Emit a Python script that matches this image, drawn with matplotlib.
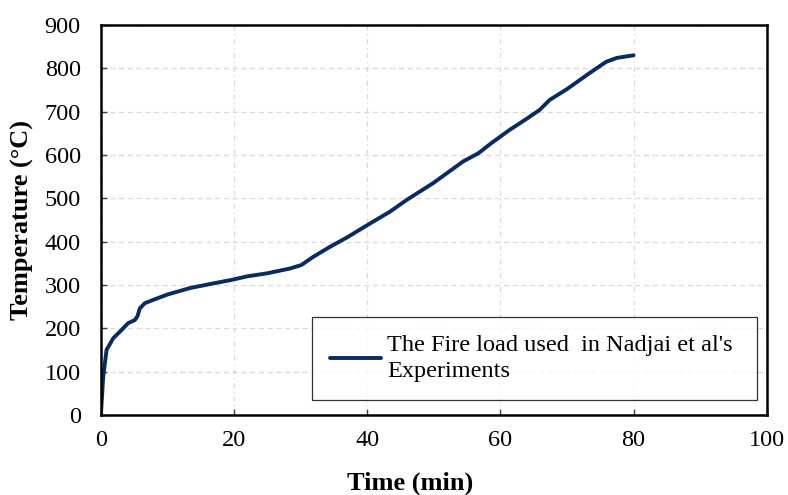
import numpy as np
import matplotlib.pyplot as plt

plt.rcParams['font.family'] = ['Liberation Serif', 'DejaVu Serif']

# fire curve (time in min, temperature in degC)
time_min = [0, 0.35, 0.85, 1.85, 3.1, 4.1, 5.1, 5.5, 5.85, 6.6, 8.1, 10, 13.4, 17, 19.4,
            22, 25, 28.4, 30.1, 31.9, 34.4, 37, 40, 43.4, 45.9, 49.9, 54.4, 56.7,
            58.7, 61.4, 64, 65.9, 67.4, 70, 73.4, 75.9, 77.5, 80]
temperature = [0, 88, 150, 177, 196, 212, 219, 228, 246, 258, 267, 278, 293, 304, 311,
               320, 327, 338, 346, 365, 388, 410, 438, 469, 496, 535, 585, 604,
               628, 658, 684, 704, 727, 752, 789, 815, 824, 830]

legend_label = "The Fire load used  in Nadjai et al's\nExperiments"
x_ticks = [0, 20, 40, 60, 80, 100]
y_ticks = [0, 100, 200, 300, 400, 500, 600, 700, 800, 900]

fig = plt.figure(figsize=(7.88, 4.95), dpi=100)
ax = fig.add_axes([0.128, 0.1616, 0.845, 0.788])

ax.plot(time_min, temperature, color='#0b2a5e', linewidth=2.8, label=legend_label,
        solid_joinstyle='round', solid_capstyle='round')

ax.set_xlim(0, 100)
ax.set_ylim(0, 900)
ax.set_xticks(x_ticks)
ax.set_yticks(y_ticks)

ax.yaxis.grid(True, color='#d9d9d9', linestyle=(0, (4, 3)), linewidth=0.9)
ax.xaxis.grid(True, color='#d9d9d9', linestyle=(0, (4, 3, 1, 3)), linewidth=0.9)
ax.set_axisbelow(True)

for s in ax.spines.values():
    s.set_linewidth(1.8)
    s.set_color('black')

ax.tick_params(direction='in', length=4, width=1, color='#404040', labelsize=17.5)
ax.tick_params(axis='y', pad=14.5)
ax.tick_params(axis='x', pad=10.5)

ax.set_xlabel('Time (min)', fontsize=19, fontweight='bold')
ax.set_ylabel('Temperature (°C)', fontsize=19, fontweight='bold')
ax.xaxis.set_label_coords(0.465, -0.174)
ax.yaxis.set_label_coords(-0.118, 0.5)
ax.xaxis.label.set_va('center')
ax.yaxis.label.set_va('center')

leg = ax.legend(loc='lower left', bbox_to_anchor=(0.317, 0.038, 0.669, 0.221),
                mode='expand', borderaxespad=0, fontsize=17.5, frameon=True,
                fancybox=False, handlelength=2.1, handletextpad=0.25,
                borderpad=0.75)
for t in leg.get_texts():
    t.set_linespacing(1.3)
leg.get_frame().set_edgecolor('black')
leg.get_frame().set_linewidth(0.9)

fig.savefig('out.png', dpi=100)
